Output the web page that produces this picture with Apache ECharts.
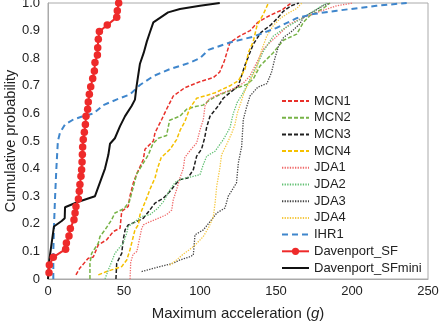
<!DOCTYPE html>
<html><head><meta charset="utf-8">
<script src="https://cdn.jsdelivr.net/npm/echarts@6/dist/echarts.min.js"></script>
<style>html,body{margin:0;padding:0;background:#fff}#c{width:439px;height:323px}</style>
</head><body><div id="c"></div>
<script>
var MCN1 = [[18.4,0.015],[21,0.04],[26.5,0.075],[29.8,0.08],[33.1,0.124],[38.6,0.142],[43,0.172],[47.4,0.184],[48.5,0.245],[52.8,0.263],[53.9,0.3],[56.1,0.348],[58.3,0.38],[62.7,0.433],[63.8,0.47],[69.3,0.5],[70.4,0.53],[74.8,0.578],[78,0.615],[82.4,0.663],[90,0.693],[100,0.715],[108.8,0.73],[113,0.75],[116,0.79],[119.7,0.857],[126,0.88],[133,0.9],[138,0.93],[146,0.955],[154,0.975],[160,1.0]];
var MCN2 = [[27.6,0],[27.6,0.057],[28.7,0.093],[33.1,0.13],[34.2,0.154],[37.5,0.178],[41.9,0.215],[44,0.239],[50,0.255],[53.5,0.28],[56,0.33],[58.3,0.38],[62.7,0.42],[66,0.45],[69,0.49],[72.6,0.51],[78,0.52],[80,0.575],[86.8,0.59],[91.2,0.615],[97,0.625],[102,0.63],[106.6,0.65],[113,0.668],[122,0.687],[130.7,0.705],[135,0.724],[139.5,0.772],[148.2,0.82],[154.8,0.865],[163.6,0.887],[168,0.93],[172.4,0.955],[181,0.98],[185.5,1.0]];
var MCN3 = [[44.7,0],[45.2,0.057],[48.5,0.093],[49.5,0.142],[50.7,0.178],[52.8,0.196],[58.3,0.208],[62.7,0.22],[67,0.25],[70.4,0.275],[75.9,0.293],[80.3,0.318],[84.6,0.348],[86.8,0.36],[92,0.366],[95.6,0.396],[97.8,0.445],[101,0.47],[103,0.51],[104.4,0.55],[106.6,0.59],[112,0.627],[115.3,0.655],[120.8,0.68],[125.2,0.7],[129.6,0.775],[135,0.85],[140,0.893],[146.5,0.92],[151,0.945],[154.8,0.97],[160,0.99],[165,1.0]];
var MCN4 = [[33.1,0.015],[38.6,0.027],[41.9,0.033],[48.5,0.045],[51.8,0.069],[53.9,0.105],[55.5,0.14],[57.2,0.178],[59.4,0.196],[60.5,0.233],[62.7,0.263],[64.9,0.293],[67,0.324],[70.4,0.366],[72,0.4],[74.5,0.44],[80.3,0.47],[84.6,0.505],[87,0.54],[90,0.57],[93.4,0.62],[97.8,0.655],[104.4,0.665],[110,0.675],[119.7,0.7],[125.2,0.718],[129.6,0.76],[131.8,0.82],[135,0.86],[137.5,0.918],[141.7,0.96],[145,1.0]];
var JDA1 = [[54,0],[54.4,0.06],[56,0.09],[58.5,0.1],[60,0.14],[61.5,0.18],[62.7,0.196],[66,0.205],[70.4,0.215],[78,0.233],[81.4,0.25],[82.4,0.287],[84.6,0.324],[86.8,0.366],[89,0.4],[90,0.44],[93.4,0.465],[97.8,0.493],[100,0.54],[102.2,0.578],[103.3,0.627],[105.5,0.65],[110,0.663],[115.3,0.675],[122,0.69],[128.5,0.71],[132.9,0.736],[137.3,0.784],[141.7,0.833],[146,0.857],[152.6,0.89],[159,0.924],[168,0.947],[179,0.97],[190,0.99],[200.8,1.0]];
var JDA2 = [[37.5,0],[39.7,0.033],[41.9,0.063],[44,0.093],[49.5,0.13],[51.8,0.166],[52.8,0.19],[57.2,0.208],[61.6,0.226],[67,0.233],[72,0.255],[75.9,0.28],[80.3,0.324],[83.6,0.35],[86.8,0.36],[95.6,0.372],[100,0.378],[102.2,0.415],[104.4,0.445],[109.9,0.463],[115.3,0.505],[119.7,0.548],[121.9,0.6],[124.5,0.64],[128.5,0.675],[132.9,0.724],[137.3,0.772],[141.7,0.825],[148.2,0.88],[156,0.91],[165.8,0.94],[176.8,0.978],[183.3,1.0]];
var JDA3 = [[61.6,0.027],[73.7,0.045],[82.4,0.057],[86.8,0.069],[93,0.08],[95.6,0.087],[96.7,0.16],[102.2,0.178],[107.7,0.215],[111,0.239],[116.4,0.257],[118.6,0.3],[124,0.348],[125.2,0.42],[127.4,0.48],[128.5,0.578],[130.5,0.62],[132.9,0.663],[138,0.695],[144,0.708],[147,0.748],[149.3,0.8],[152,0.85],[155,0.875],[161,0.9],[165.8,0.925],[168,0.948],[175,0.97],[181,0.99],[185.5,1.0]];
var JDA4 = [[80,0.05],[84.6,0.069],[89,0.09],[95.6,0.117],[98,0.13],[102.2,0.154],[106,0.19],[108.8,0.226],[110,0.28],[111,0.336],[113,0.4],[114.2,0.45],[118.6,0.5],[121,0.53],[123,0.56],[124.5,0.6],[126,0.625],[129,0.675],[133,0.72],[137,0.76],[140.6,0.83],[143.9,0.88],[148.2,0.918],[153,0.945],[157,0.96],[163.6,0.98],[167,1.0]];
var IHR1 = [[3.5,0],[3.5,0.1],[4,0.2],[4.6,0.29],[5.5,0.4],[6.5,0.5],[7.9,0.53],[11.2,0.56],[16.7,0.578],[23.2,0.59],[30,0.6],[36.4,0.63],[45,0.65],[54,0.669],[60.5,0.703],[69.3,0.735],[80,0.76],[93.4,0.784],[100,0.8],[105.5,0.83],[119.7,0.857],[135,0.878],[150.4,0.91],[163.6,0.945],[174.5,0.96],[190,0.972],[216,0.99],[236,1.0]];
var DavenportSF = [[0.66,0.023],[0.88,0.051],[3.5,0.079],[11.6,0.108],[12.1,0.13],[13.8,0.156],[14.7,0.183],[17.1,0.215],[17.8,0.239],[18.4,0.263],[20,0.29],[20.6,0.318],[21,0.342],[21.7,0.372],[22.1,0.396],[22.4,0.424],[22.6,0.451],[22.8,0.478],[23.2,0.505],[23.9,0.532],[24.6,0.56],[25,0.59],[26.1,0.615],[26.5,0.641],[27.2,0.669],[28.1,0.697],[29.4,0.726],[30.5,0.754],[30.9,0.784],[32.5,0.812],[32.7,0.838],[33.1,0.869],[33.8,0.897],[39,0.92],[45.2,0.948],[45.6,0.972],[46.5,1.0]];
var DavenportSFmini = [[0,0],[0.9,0.07],[2.4,0.13],[3.9,0.19],[9,0.21],[11,0.22],[11.2,0.26],[20,0.28],[30.9,0.3],[34.2,0.35],[37.5,0.40],[39.7,0.45],[40.8,0.49],[44,0.51],[47.4,0.554],[50.7,0.59],[55,0.627],[57.2,0.65],[58.3,0.70],[59.4,0.74],[60.5,0.78],[63,0.82],[65,0.86],[67,0.893],[69.3,0.93],[79,0.966],[86.8,0.978],[100,0.99],[113,1.0]];

var defs = [
  ['MCN1', MCN1, '#e8302a', [4,2], 1.5],
  ['MCN2', MCN2, '#77b347', [4,2], 1.5],
  ['MCN3', MCN3, '#1f1f1f', [4,2], 1.5],
  ['MCN4', MCN4, '#f5c000', [4,2], 1.5],
  ['JDA1', JDA1, '#f06a6a', [1.3,1.3], 1.3],
  ['JDA2', JDA2, '#62c073', [1.3,1.3], 1.3],
  ['JDA3', JDA3, '#444444', [1.3,1.3], 1.3],
  ['JDA4', JDA4, '#f5c842', [1.3,1.3], 1.3],
  ['IHR1', IHR1, '#3f86cc', [6,4], 2]
];
var series = defs.map(function(d){
  return {name:d[0], type:'line', data:d[1], symbol:'circle', showSymbol:false,
    lineStyle:{color:d[2], type:d[3], width:d[4]}, itemStyle:{color:d[2], opacity:0}};
});
series.push({name:'Davenport_SF', type:'line', data:DavenportSF, symbol:'circle', symbolSize:7.5, z:5,
  lineStyle:{color:'#ee2a2a', width:2}, itemStyle:{color:'#ee2a2a'}});
series.push({name:'Davenport_SFmini', type:'line', data:DavenportSFmini, symbol:'circle', showSymbol:false, z:4,
  lineStyle:{color:'#111', width:2}, itemStyle:{color:'#111', opacity:0}});

var chart = echarts.init(document.getElementById('c'), null, {renderer:'canvas'});
chart.setOption({
  animation:false,
  backgroundColor:'#fff',
  textStyle:{fontFamily:'Liberation Sans, Arial, sans-serif'},
  grid:{left:48, right:11, top:3, bottom:44, show:true, borderColor:'#aaa', borderWidth:1,
    containLabel:false, outerBoundsMode:'none'},
  legend:{orient:'vertical', left:276, top:89, itemWidth:27, itemHeight:9, itemGap:2.7,
    textStyle:{fontSize:13, lineHeight:14, color:'#222', fontFamily:'Liberation Sans, Arial, sans-serif'},
    data:series.map(function(s){return s.name;})},
  xAxis:{type:'value', min:0, max:250, interval:50,
    name:'{a|Maximum acceleration (}{b|g}{a|)}', nameLocation:'middle', nameGap:27, nameMoveOverlap:false,
    nameTextStyle:{rich:{a:{fontSize:15, color:'#222'}, b:{fontSize:15, color:'#222', fontStyle:'italic'}}},
    axisLine:{lineStyle:{color:'#aaa'}}, axisTick:{show:false}, splitLine:{show:false},
    axisLabel:{fontSize:13, color:'#222', margin:6}},
  yAxis:{type:'value', min:0, max:1, interval:0.1,
    name:'Cumulative probability', nameLocation:'middle', nameGap:30, nameMoveOverlap:false,
    nameTextStyle:{fontSize:14.5, color:'#222'},
    axisLine:{show:true, lineStyle:{color:'#aaa'}}, axisTick:{show:false}, splitLine:{show:false},
    axisLabel:{fontSize:13, color:'#222', margin:8, formatter:function(v){return v===0?'0':v.toFixed(1);}}},
  series:series
});
</script></body></html>
